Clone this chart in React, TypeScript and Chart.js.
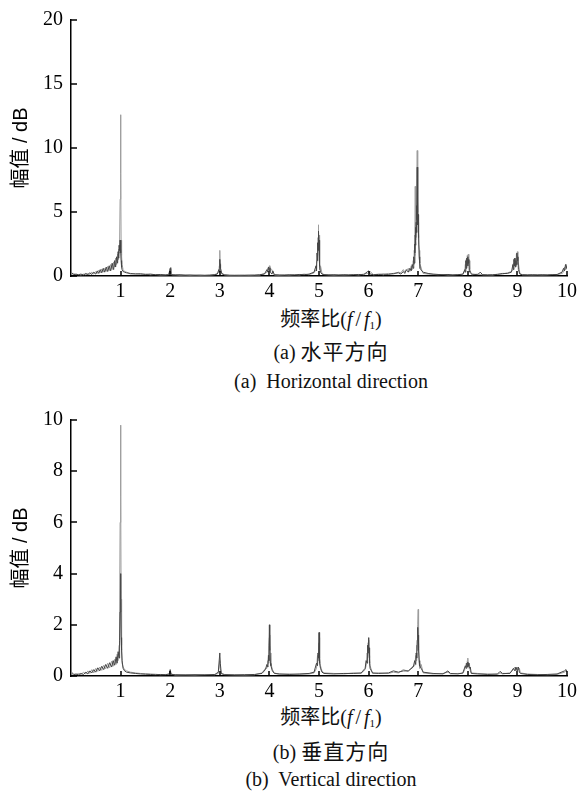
import React, { useEffect, useRef } from "react";
import { Chart, registerables } from "chart.js";

Chart.register(...registerables);

// ---------- Data: (a) horizontal direction ----------
const hFreq = [
  0.02, 0.05, 0.1, 0.15, 0.2, 0.25, 0.3, 0.34, 0.38, 0.42, 0.46, 0.5, 0.53, 0.56, 0.59, 0.62, 0.65, 0.68, 0.71, 0.74,
  0.77, 0.8, 0.83, 0.86, 0.88, 0.9, 0.92, 0.94, 0.95, 0.96, 0.97, 0.98, 0.99, 1.0, 1.005, 1.01, 1.02, 1.03, 1.05, 1.08,
  1.12, 1.2, 1.3, 1.4, 1.5, 1.6, 1.7, 1.8, 1.9, 1.97, 2.0, 2.01, 2.03, 2.1, 2.2, 2.3, 2.4, 2.5, 2.6, 2.7,
  2.8, 2.9, 2.95, 2.98, 2.99, 3.0, 3.005, 3.01, 3.02, 3.04, 3.1, 3.2, 3.3, 3.4, 3.5, 3.6, 3.7, 3.8, 3.9, 3.95,
  3.97, 3.98, 4.0, 4.01, 4.02, 4.05, 4.07, 4.1, 4.2, 4.3, 4.4, 4.5, 4.6, 4.7, 4.8, 4.9, 4.94, 4.95, 4.96, 4.97,
  4.975, 4.98, 4.985, 4.99, 4.995, 5.0, 5.005, 5.01, 5.02, 5.03, 5.06, 5.1, 5.2, 5.3, 5.4, 5.5, 5.6, 5.7, 5.8, 5.9,
  5.98, 6.0, 6.03, 6.1, 6.2, 6.3, 6.4, 6.5, 6.6, 6.65, 6.7, 6.73, 6.76, 6.8, 6.83, 6.86, 6.88, 6.9, 6.91, 6.92,
  6.93, 6.935, 6.94, 6.945, 6.95, 6.955, 6.96, 6.965, 6.97, 6.975, 6.98, 6.985, 6.99, 6.995, 7.0, 7.005, 7.01, 7.02, 7.03, 7.04,
  7.07, 7.1, 7.2, 7.3, 7.4, 7.5, 7.6, 7.7, 7.8, 7.9, 7.94, 7.95, 7.96, 7.97, 7.98, 7.99, 8.0, 8.01, 8.02, 8.03,
  8.04, 8.08, 8.2, 8.25, 8.3, 8.4, 8.5, 8.6, 8.7, 8.8, 8.88, 8.91, 8.92, 8.93, 8.94, 8.95, 8.96, 8.97, 8.98, 8.99,
  9.0, 9.01, 9.02, 9.05, 9.1, 9.2, 9.3, 9.4, 9.5, 9.6, 9.7, 9.8, 9.9, 9.93, 9.95, 9.97, 9.99, 10.0,
];
const hDark = [
  0.25, 0.1, 0.15, 0.1, 0.15, 0.08, 0.2, 0.1, 0.25, 0.12, 0.3, 0.15, 0.4, 0.2, 0.5, 0.25, 0.6, 0.3, 0.7, 0.35,
  0.8, 0.4, 1.0, 0.5, 1.2, 0.7, 1.5, 1.0, 1.9, 1.4, 2.4, 2.0, 2.8, 2.5, 1.8, 1.2, 0.7, 0.5, 0.35, 0.3,
  0.25, 0.2, 0.15, 0.18, 0.12, 0.15, 0.1, 0.12, 0.08, 0.1, 0.6, 0.2, 0.1, 0.08, 0.1, 0.06, 0.08, 0.05, 0.07, 0.05,
  0.06, 0.1, 0.15, 0.5, 0.3, 1.3, 0.6, 0.9, 0.6, 0.2, 0.08, 0.06, 0.05, 0.06, 0.05, 0.07, 0.06, 0.1, 0.15, 0.5,
  0.3, 0.7, 0.4, 0.65, 0.3, 0.15, 0.4, 0.1, 0.08, 0.06, 0.1, 0.07, 0.12, 0.1, 0.15, 0.3, 0.8, 0.4, 1.8, 1.2,
  2.6, 2.0, 3.3, 2.6, 3.5, 2.2, 2.8, 1.2, 0.8, 0.3, 0.15, 0.1, 0.08, 0.1, 0.07, 0.1, 0.08, 0.1, 0.12, 0.1,
  0.35, 0.4, 0.15, 0.1, 0.12, 0.15, 0.12, 0.2, 0.25, 0.15, 0.35, 0.2, 0.5, 0.3, 0.6, 0.4, 0.9, 0.6, 1.5, 1.0,
  2.5, 1.8, 3.2, 2.4, 3.8, 3.0, 4.2, 3.4, 5.5, 4.4, 8.5, 5.0, 6.2, 4.0, 4.8, 3.0, 3.4, 1.5, 1.0, 0.6,
  0.4, 0.3, 0.2, 0.15, 0.12, 0.1, 0.12, 0.08, 0.1, 0.15, 0.5, 0.3, 1.2, 0.6, 1.4, 0.8, 1.5, 1.0, 1.3, 0.4,
  0.3, 0.15, 0.1, 0.3, 0.1, 0.08, 0.1, 0.12, 0.2, 0.2, 0.3, 0.9, 0.5, 1.3, 0.8, 1.4, 0.7, 1.2, 0.9, 1.8,
  1.2, 1.5, 0.5, 0.15, 0.1, 0.08, 0.1, 0.08, 0.1, 0.08, 0.1, 0.12, 0.3, 0.6, 0.4, 0.9, 0.6, 0.8,
];
const hLight = [
  0.15, 0.2, 0.1, 0.12, 0.08, 0.15, 0.1, 0.2, 0.12, 0.3, 0.15, 0.35, 0.2, 0.45, 0.25, 0.55, 0.3, 0.6, 0.35, 0.75,
  0.4, 0.9, 0.5, 1.1, 0.7, 1.4, 0.9, 1.7, 1.3, 2.1, 1.8, 2.6, 6.0, 12.6, 8.0, 2.8, 1.6, 0.9, 0.5, 0.35,
  0.3, 0.15, 0.2, 0.12, 0.15, 0.1, 0.12, 0.08, 0.1, 0.12, 0.4, 0.7, 0.1, 0.1, 0.06, 0.08, 0.05, 0.08, 0.05, 0.06,
  0.08, 0.12, 0.2, 0.3, 0.8, 2.0, 0.9, 1.0, 0.4, 0.15, 0.1, 0.05, 0.06, 0.05, 0.07, 0.05, 0.08, 0.07, 0.2, 0.3,
  0.6, 0.5, 0.8, 0.4, 0.6, 0.5, 0.2, 0.08, 0.06, 0.1, 0.07, 0.12, 0.08, 0.15, 0.1, 0.25, 0.5, 1.0, 1.2, 2.2,
  1.6, 3.0, 2.4, 4.0, 3.0, 3.2, 1.8, 2.0, 0.5, 0.8, 0.2, 0.12, 0.1, 0.07, 0.1, 0.08, 0.1, 0.12, 0.08, 0.15,
  0.2, 0.3, 0.35, 0.1, 0.15, 0.1, 0.2, 0.15, 0.3, 0.25, 0.5, 0.3, 0.4, 0.6, 0.35, 0.8, 0.5, 1.2, 0.9, 2.0,
  1.6, 3.0, 7.0, 4.0, 2.8, 4.2, 3.4, 5.0, 4.2, 6.0, 9.8, 7.5, 5.0, 6.0, 3.6, 4.2, 2.5, 2.0, 0.6, 0.9,
  0.5, 0.2, 0.15, 0.12, 0.1, 0.12, 0.08, 0.1, 0.12, 0.1, 0.4, 0.9, 0.6, 1.3, 0.9, 1.6, 1.0, 1.7, 0.8, 1.2,
  0.5, 0.1, 0.15, 0.12, 0.1, 0.1, 0.08, 0.15, 0.15, 0.25, 0.35, 0.5, 1.0, 0.8, 1.4, 1.0, 1.3, 0.8, 1.7, 1.2,
  1.9, 0.9, 1.0, 0.2, 0.1, 0.1, 0.08, 0.1, 0.08, 0.1, 0.12, 0.1, 0.2, 0.3, 0.7, 0.5, 0.9, 0.5,
];
const hYTicks = [0, 5, 10, 15, 20];

// ---------- Data: (b) vertical direction ----------
const vFreq = [
  0.02, 0.05, 0.1, 0.15, 0.2, 0.25, 0.3, 0.34, 0.38, 0.42, 0.46, 0.5, 0.54, 0.58, 0.62, 0.66, 0.7, 0.74, 0.78, 0.82,
  0.85, 0.88, 0.91, 0.93, 0.95, 0.97, 0.98, 0.99, 1.0, 1.005, 1.01, 1.02, 1.03, 1.05, 1.08, 1.12, 1.2, 1.3, 1.4, 1.5,
  1.6, 1.7, 1.8, 1.9, 1.98, 2.0, 2.02, 2.1, 2.3, 2.5, 2.7, 2.9, 2.97, 3.0, 3.01, 3.03, 3.1, 3.3, 3.5, 3.7,
  3.85, 3.92, 3.95, 3.97, 3.98, 3.99, 4.0, 4.005, 4.01, 4.02, 4.03, 4.06, 4.1, 4.2, 4.4, 4.6, 4.8, 4.9, 4.95, 4.97,
  4.98, 4.99, 5.0, 5.005, 5.01, 5.02, 5.03, 5.06, 5.1, 5.3, 5.5, 5.7, 5.85, 5.93, 5.95, 5.97, 5.98, 5.99, 6.0, 6.005,
  6.01, 6.02, 6.03, 6.08, 6.2, 6.4, 6.5, 6.6, 6.7, 6.8, 6.9, 6.93, 6.95, 6.96, 6.97, 6.98, 6.99, 7.0, 7.005, 7.01,
  7.02, 7.03, 7.06, 7.1, 7.3, 7.5, 7.6, 7.65, 7.8, 7.9, 7.95, 7.97, 7.98, 7.99, 8.0, 8.01, 8.02, 8.03, 8.05, 8.07,
  8.2, 8.4, 8.6, 8.65, 8.7, 8.85, 8.92, 8.95, 8.97, 9.0, 9.02, 9.04, 9.06, 9.2, 9.4, 9.6, 9.8, 9.95, 9.98, 10.0,
];
const vDark = [
  0.1, 0.05, 0.08, 0.05, 0.1, 0.06, 0.15, 0.08, 0.2, 0.12, 0.25, 0.15, 0.32, 0.2, 0.38, 0.25, 0.45, 0.3, 0.52, 0.35,
  0.6, 0.42, 0.75, 0.5, 0.95, 0.7, 1.4, 2.5, 4.0, 3.0, 1.5, 1.0, 0.6, 0.3, 0.2, 0.15, 0.12, 0.1, 0.08, 0.07,
  0.06, 0.05, 0.06, 0.05, 0.08, 0.25, 0.06, 0.05, 0.04, 0.05, 0.04, 0.06, 0.15, 0.9, 0.5, 0.1, 0.05, 0.04, 0.05, 0.06,
  0.1, 0.25, 0.45, 0.35, 0.8, 0.6, 2.0, 1.0, 1.2, 0.5, 0.4, 0.2, 0.1, 0.08, 0.06, 0.08, 0.1, 0.15, 0.5, 0.4,
  0.9, 0.7, 1.7, 1.0, 1.1, 0.5, 0.3, 0.15, 0.1, 0.08, 0.1, 0.1, 0.12, 0.3, 0.6, 0.5, 1.2, 0.9, 1.5, 1.0,
  1.1, 0.5, 0.3, 0.12, 0.1, 0.12, 0.2, 0.15, 0.2, 0.2, 0.35, 0.6, 0.45, 0.9, 0.7, 1.4, 1.9, 1.3, 1.6, 1.0,
  0.6, 0.4, 0.3, 0.15, 0.1, 0.08, 0.2, 0.1, 0.08, 0.12, 0.4, 0.3, 0.5, 0.35, 0.55, 0.4, 0.5, 0.3, 0.35, 0.1,
  0.08, 0.06, 0.08, 0.18, 0.1, 0.1, 0.3, 0.2, 0.35, 0.2, 0.35, 0.15, 0.1, 0.06, 0.05, 0.06, 0.08, 0.2, 0.25, 0.15,
];
const vLight = [
  0.15, 0.08, 0.05, 0.1, 0.05, 0.15, 0.08, 0.2, 0.1, 0.25, 0.12, 0.3, 0.18, 0.35, 0.22, 0.42, 0.28, 0.5, 0.32, 0.58,
  0.38, 0.65, 0.45, 0.85, 0.6, 1.2, 2.5, 6.0, 9.8, 7.0, 3.0, 1.2, 0.5, 0.35, 0.25, 0.2, 0.15, 0.12, 0.1, 0.09,
  0.08, 0.07, 0.05, 0.06, 0.06, 0.15, 0.08, 0.04, 0.05, 0.04, 0.06, 0.05, 0.1, 0.6, 0.3, 0.08, 0.06, 0.05, 0.04, 0.05,
  0.12, 0.3, 0.3, 0.6, 0.5, 1.2, 1.5, 1.6, 0.8, 0.9, 0.5, 0.25, 0.12, 0.07, 0.08, 0.06, 0.08, 0.12, 0.3, 0.8,
  0.6, 1.2, 1.3, 1.5, 0.8, 0.7, 0.4, 0.2, 0.12, 0.1, 0.08, 0.12, 0.1, 0.25, 0.4, 0.9, 0.7, 1.3, 1.0, 1.4,
  0.8, 0.7, 0.4, 0.1, 0.12, 0.1, 0.15, 0.12, 0.25, 0.18, 0.4, 0.4, 0.8, 0.6, 1.2, 1.0, 2.0, 2.6, 1.1, 1.4,
  0.5, 0.3, 0.45, 0.12, 0.08, 0.1, 0.15, 0.08, 0.1, 0.1, 0.3, 0.5, 0.35, 0.6, 0.7, 0.5, 0.35, 0.5, 0.2, 0.12,
  0.1, 0.08, 0.06, 0.12, 0.08, 0.12, 0.25, 0.35, 0.2, 0.35, 0.25, 0.3, 0.12, 0.08, 0.06, 0.05, 0.06, 0.15, 0.2, 0.25,
];
const vYTicks = [0, 2, 4, 6, 8, 10];

const xTickValues = [1, 2, 3, 4, 5, 6, 7, 8, 9, 10];
const yAxisTitle = "幅值 / dB";

const DARK = "#454545";
const LIGHT = "#9c9c9c";
const SERIF = '"Liberation Serif", "Times New Roman", serif';

const innerTicks = {
  id: "innerTicks",
  afterDraw(chart: any) {
    const { ctx, chartArea, scales } = chart;
    const x = scales.x;
    const y = scales.y;
    ctx.save();
    ctx.strokeStyle = "#000";
    ctx.lineWidth = 1.5;
    y.ticks.forEach((t: any) => {
      const py = Math.round(y.getPixelForValue(t.value));
      ctx.beginPath();
      ctx.moveTo(chartArea.left, py);
      ctx.lineTo(chartArea.left + 6, py);
      ctx.stroke();
    });
    x.ticks.forEach((t: any) => {
      if (!xTickValues.includes(t.value)) return;
      const px = Math.round(x.getPixelForValue(t.value));
      ctx.beginPath();
      ctx.moveTo(px, chartArea.bottom);
      ctx.lineTo(px, chartArea.bottom - 5);
      ctx.stroke();
    });
    ctx.restore();
  },
};

function makePoints(xs: number[], ys: number[]) {
  return xs.map((v, i) => ({ x: v, y: ys[i] }));
}

function Spectrum(props: {
  freq: number[];
  dark: number[];
  light: number[];
  yMax: number;
  yTicks: number[];
  padTop: number;
}) {
  const ref = useRef<HTMLCanvasElement | null>(null);
  useEffect(() => {
    if (!ref.current) return;
    const chart = new Chart(ref.current, {
      type: "line",
      data: {
        datasets: [
          {
            data: makePoints(props.freq, props.dark),
            borderColor: DARK,
            borderWidth: 1,
            pointRadius: 0,
            tension: 0,
            order: 0,
          },
          {
            data: makePoints(props.freq, props.light),
            borderColor: LIGHT,
            borderWidth: 1,
            pointRadius: 0,
            tension: 0,
            order: 1,
          },
        ],
      },
      options: {
        responsive: false,
        animation: false,
        events: [],
        layout: { padding: { top: props.padTop, right: 19, left: 0, bottom: 0 } },
        plugins: { legend: { display: false }, tooltip: { enabled: false } },
        scales: {
          x: {
            type: "linear",
            min: 0,
            max: 10,
            afterFit: (s: any) => {
              s.height = 24;
            },
            afterBuildTicks: (s: any) => {
              s.ticks = xTickValues.map((v) => ({ value: v }));
            },
            grid: { display: false, drawTicks: false },
            border: { display: true, color: "#000", width: 1.5 },
            ticks: {
              padding: 4,
              color: "#000",
              font: { family: SERIF, size: 20 },
              maxRotation: 0,
              autoSkip: false,
            },
          },
          y: {
            min: 0,
            max: props.yMax,
            afterFit: (s: any) => {
              s.width = 71;
            },
            afterBuildTicks: (s: any) => {
              s.ticks = props.yTicks.map((v) => ({ value: v }));
            },
            grid: { display: false, drawTicks: false },
            border: { display: true, color: "#000", width: 1.5 },
            ticks: {
              padding: 8,
              color: "#000",
              font: { family: SERIF, size: 20 },
            },
            title: {
              display: true,
              text: yAxisTitle,
              color: "#000",
              padding: { top: 9, bottom: 0 },
              font: { family: '"Liberation Sans", "Noto Sans CJK SC", sans-serif', size: 20 },
            },
          },
        },
      },
      plugins: [innerTicks],
    } as any);
    return () => chart.destroy();
  }, []);
  return (
    <canvas
      ref={ref}
      width={586}
      height={300}
      style={{ display: "block", width: 586, height: 300 }}
    />
  );
}

const captionStyle: React.CSSProperties = {
  position: "absolute",
  left: 76,
  width: 510,
  textAlign: "center",
  fontFamily: '"Liberation Serif", "Noto Sans CJK SC", serif',
  fontSize: 20,
  lineHeight: "24px",
  color: "#111",
  whiteSpace: "pre",
};

const cjk: React.CSSProperties = { fontSize: 21, letterSpacing: 1 };

function XTitle(props: { top: number }) {
  return (
    <div style={{ ...captionStyle, top: props.top }}>
      <span style={{ fontSize: 20 }}>频率比</span>(<i style={{ marginRight: 3 }}>f</i>
      <span style={{ marginRight: 3 }}>/</span>
      <i>f</i>
      <sub style={{ fontSize: 11, verticalAlign: "-3px" }}>1</sub>)
    </div>
  );
}

export default function App() {
  return (
    <div
      style={{
        position: "absolute",
        left: 0,
        top: 0,
        width: 586,
        height: 791,
        background: "#fff",
        overflow: "hidden",
      }}
    >
      <div style={{ position: "absolute", left: 0, top: 0 }}>
        <Spectrum freq={hFreq} dark={hDark} light={hLight} yMax={20} yTicks={hYTicks} padTop={17} />
      </div>
      <XTitle top={307} />
      <div style={{ ...captionStyle, top: 340 }}>
        (a) <span style={cjk}>水平方向</span>
      </div>
      <div style={{ ...captionStyle, top: 369 }}>(a)  Horizontal direction</div>

      <div style={{ position: "absolute", left: 0, top: 400 }}>
        <Spectrum freq={vFreq} dark={vDark} light={vLight} yMax={10} yTicks={vYTicks} padTop={16} />
      </div>
      <XTitle top={705} />
      <div style={{ ...captionStyle, top: 740 }}>
        (b) <span style={cjk}>垂直方向</span>
      </div>
      <div style={{ ...captionStyle, top: 767 }}>(b)  Vertical direction</div>
    </div>
  );
}
